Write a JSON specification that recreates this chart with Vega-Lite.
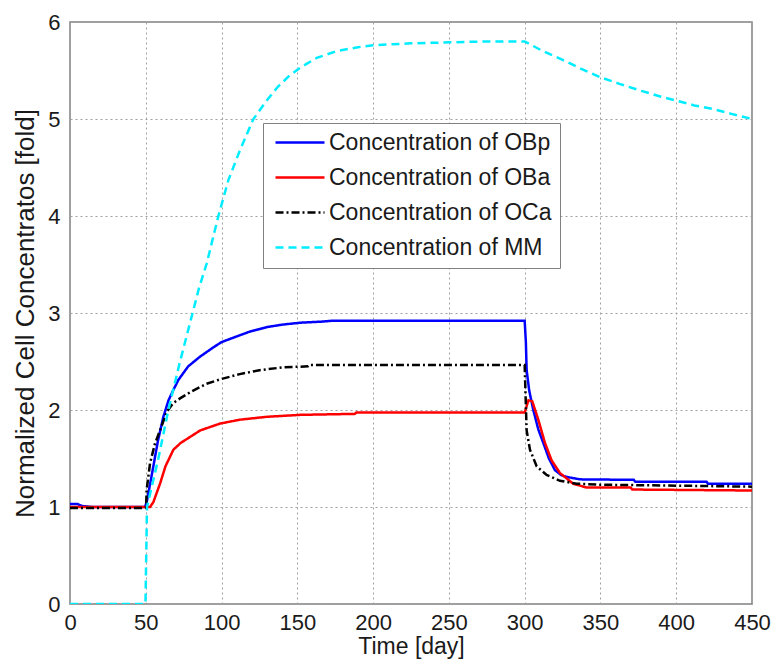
{
  "$schema": "https://vega.github.io/schema/vega-lite/v6.json",
  "width": 682,
  "height": 582,
  "autosize": {"type": "none"},
  "padding": {"left": 70, "top": 22, "right": 22, "bottom": 63},
  "background": "white",
  "config": {
    "font": "Liberation Sans",
    "view": {"stroke": "#808080", "strokeWidth": 1.5},
    "axis": {
      "labelFont": "Liberation Sans",
      "titleFont": "Liberation Sans",
      "labelFontSize": 22,
      "titleFontSize": 23,
      "titleFontWeight": "normal",
      "labelColor": "#1a1a1a",
      "titleColor": "#1a1a1a",
      "domain": false,
      "grid": true,
      "gridColor": "#a0a0a0",
      "gridDash": [2, 3],
      "gridWidth": 1,
      "gridOpacity": 1,
      "tickColor": "#808080",
      "tickSize": 0
    }
  },
  "data": {
    "values": [
      {"t": 0, "v": 1.03, "s": "Concentration of OBp"},
      {"t": 5, "v": 1.03, "s": "Concentration of OBp"},
      {"t": 8, "v": 1.01, "s": "Concentration of OBp"},
      {"t": 15, "v": 1.0, "s": "Concentration of OBp"},
      {"t": 49.5, "v": 1.0, "s": "Concentration of OBp"},
      {"t": 50.6, "v": 1.05, "s": "Concentration of OBp"},
      {"t": 53, "v": 1.25, "s": "Concentration of OBp"},
      {"t": 55, "v": 1.42, "s": "Concentration of OBp"},
      {"t": 58, "v": 1.68, "s": "Concentration of OBp"},
      {"t": 61.6, "v": 1.93, "s": "Concentration of OBp"},
      {"t": 65, "v": 2.1, "s": "Concentration of OBp"},
      {"t": 68, "v": 2.2, "s": "Concentration of OBp"},
      {"t": 71.5, "v": 2.31, "s": "Concentration of OBp"},
      {"t": 78, "v": 2.45, "s": "Concentration of OBp"},
      {"t": 85.8, "v": 2.55, "s": "Concentration of OBp"},
      {"t": 95, "v": 2.65, "s": "Concentration of OBp"},
      {"t": 100, "v": 2.7, "s": "Concentration of OBp"},
      {"t": 112, "v": 2.77, "s": "Concentration of OBp"},
      {"t": 119, "v": 2.81, "s": "Concentration of OBp"},
      {"t": 130, "v": 2.855, "s": "Concentration of OBp"},
      {"t": 140, "v": 2.88, "s": "Concentration of OBp"},
      {"t": 152, "v": 2.9, "s": "Concentration of OBp"},
      {"t": 165, "v": 2.91, "s": "Concentration of OBp"},
      {"t": 173, "v": 2.92, "s": "Concentration of OBp"},
      {"t": 250, "v": 2.92, "s": "Concentration of OBp"},
      {"t": 300, "v": 2.92, "s": "Concentration of OBp"},
      {"t": 300.8, "v": 2.7, "s": "Concentration of OBp"},
      {"t": 301.3, "v": 2.41, "s": "Concentration of OBp"},
      {"t": 303, "v": 2.2, "s": "Concentration of OBp"},
      {"t": 305.7, "v": 2.0, "s": "Concentration of OBp"},
      {"t": 309, "v": 1.8, "s": "Concentration of OBp"},
      {"t": 312.3, "v": 1.66, "s": "Concentration of OBp"},
      {"t": 316, "v": 1.5, "s": "Concentration of OBp"},
      {"t": 320, "v": 1.38, "s": "Concentration of OBp"},
      {"t": 324, "v": 1.33, "s": "Concentration of OBp"},
      {"t": 327.7, "v": 1.31, "s": "Concentration of OBp"},
      {"t": 336.5, "v": 1.285, "s": "Concentration of OBp"},
      {"t": 372, "v": 1.28, "s": "Concentration of OBp"},
      {"t": 373, "v": 1.26, "s": "Concentration of OBp"},
      {"t": 420, "v": 1.26, "s": "Concentration of OBp"},
      {"t": 421, "v": 1.24, "s": "Concentration of OBp"},
      {"t": 450, "v": 1.24, "s": "Concentration of OBp"},

      {"t": 0, "v": 1.0, "s": "Concentration of OBa"},
      {"t": 52.8, "v": 1.0, "s": "Concentration of OBa"},
      {"t": 55, "v": 1.05, "s": "Concentration of OBa"},
      {"t": 59.4, "v": 1.24, "s": "Concentration of OBa"},
      {"t": 63, "v": 1.42, "s": "Concentration of OBa"},
      {"t": 68.2, "v": 1.59, "s": "Concentration of OBa"},
      {"t": 73, "v": 1.66, "s": "Concentration of OBa"},
      {"t": 79, "v": 1.72, "s": "Concentration of OBa"},
      {"t": 86, "v": 1.79, "s": "Concentration of OBa"},
      {"t": 99, "v": 1.86, "s": "Concentration of OBa"},
      {"t": 112, "v": 1.9, "s": "Concentration of OBa"},
      {"t": 130, "v": 1.93, "s": "Concentration of OBa"},
      {"t": 152, "v": 1.95, "s": "Concentration of OBa"},
      {"t": 188, "v": 1.96, "s": "Concentration of OBa"},
      {"t": 189, "v": 1.975, "s": "Concentration of OBa"},
      {"t": 300, "v": 1.975, "s": "Concentration of OBa"},
      {"t": 302.5, "v": 2.1, "s": "Concentration of OBa"},
      {"t": 305, "v": 2.09, "s": "Concentration of OBa"},
      {"t": 309, "v": 1.9, "s": "Concentration of OBa"},
      {"t": 313.4, "v": 1.66, "s": "Concentration of OBa"},
      {"t": 317.8, "v": 1.48, "s": "Concentration of OBa"},
      {"t": 323.3, "v": 1.35, "s": "Concentration of OBa"},
      {"t": 332, "v": 1.24, "s": "Concentration of OBa"},
      {"t": 341, "v": 1.2, "s": "Concentration of OBa"},
      {"t": 370, "v": 1.2, "s": "Concentration of OBa"},
      {"t": 371, "v": 1.18, "s": "Concentration of OBa"},
      {"t": 450, "v": 1.17, "s": "Concentration of OBa"},

      {"t": 0, "v": 0.99, "s": "Concentration of OCa"},
      {"t": 49.5, "v": 0.99, "s": "Concentration of OCa"},
      {"t": 50.2, "v": 1.0, "s": "Concentration of OCa"},
      {"t": 50.6, "v": 1.18, "s": "Concentration of OCa"},
      {"t": 52.8, "v": 1.45, "s": "Concentration of OCa"},
      {"t": 56, "v": 1.65, "s": "Concentration of OCa"},
      {"t": 59.4, "v": 1.79, "s": "Concentration of OCa"},
      {"t": 63.8, "v": 1.98, "s": "Concentration of OCa"},
      {"t": 68, "v": 2.07, "s": "Concentration of OCa"},
      {"t": 72.6, "v": 2.12, "s": "Concentration of OCa"},
      {"t": 80, "v": 2.19, "s": "Concentration of OCa"},
      {"t": 90, "v": 2.27, "s": "Concentration of OCa"},
      {"t": 100, "v": 2.32, "s": "Concentration of OCa"},
      {"t": 112, "v": 2.37, "s": "Concentration of OCa"},
      {"t": 125, "v": 2.41, "s": "Concentration of OCa"},
      {"t": 140.6, "v": 2.44, "s": "Concentration of OCa"},
      {"t": 157, "v": 2.45, "s": "Concentration of OCa"},
      {"t": 158, "v": 2.465, "s": "Concentration of OCa"},
      {"t": 300, "v": 2.465, "s": "Concentration of OCa"},
      {"t": 300.5, "v": 2.2, "s": "Concentration of OCa"},
      {"t": 301.3, "v": 1.79, "s": "Concentration of OCa"},
      {"t": 303.5, "v": 1.59, "s": "Concentration of OCa"},
      {"t": 307.9, "v": 1.42, "s": "Concentration of OCa"},
      {"t": 314.5, "v": 1.33, "s": "Concentration of OCa"},
      {"t": 323.3, "v": 1.27, "s": "Concentration of OCa"},
      {"t": 334.3, "v": 1.24, "s": "Concentration of OCa"},
      {"t": 350, "v": 1.23, "s": "Concentration of OCa"},
      {"t": 400, "v": 1.22, "s": "Concentration of OCa"},
      {"t": 450, "v": 1.21, "s": "Concentration of OCa"},

      {"t": 0, "v": 0, "s": "Concentration of MM"},
      {"t": 49.8, "v": 0, "s": "Concentration of MM"},
      {"t": 50.3, "v": 0.5, "s": "Concentration of MM"},
      {"t": 50.8, "v": 1.0, "s": "Concentration of MM"},
      {"t": 58.3, "v": 1.5, "s": "Concentration of MM"},
      {"t": 64.9, "v": 2.0, "s": "Concentration of MM"},
      {"t": 72.6, "v": 2.5, "s": "Concentration of MM"},
      {"t": 80.9, "v": 3.0, "s": "Concentration of MM"},
      {"t": 85, "v": 3.25, "s": "Concentration of MM"},
      {"t": 90.2, "v": 3.51, "s": "Concentration of MM"},
      {"t": 97.9, "v": 4.0, "s": "Concentration of MM"},
      {"t": 104.5, "v": 4.37, "s": "Concentration of MM"},
      {"t": 112.2, "v": 4.68, "s": "Concentration of MM"},
      {"t": 121, "v": 5.0, "s": "Concentration of MM"},
      {"t": 129.8, "v": 5.19, "s": "Concentration of MM"},
      {"t": 137, "v": 5.33, "s": "Concentration of MM"},
      {"t": 145, "v": 5.45, "s": "Concentration of MM"},
      {"t": 152, "v": 5.53, "s": "Concentration of MM"},
      {"t": 162.8, "v": 5.63, "s": "Concentration of MM"},
      {"t": 176, "v": 5.7, "s": "Concentration of MM"},
      {"t": 190, "v": 5.74, "s": "Concentration of MM"},
      {"t": 200, "v": 5.76, "s": "Concentration of MM"},
      {"t": 225, "v": 5.78, "s": "Concentration of MM"},
      {"t": 250, "v": 5.79, "s": "Concentration of MM"},
      {"t": 275, "v": 5.8, "s": "Concentration of MM"},
      {"t": 300, "v": 5.8, "s": "Concentration of MM"},
      {"t": 312, "v": 5.7, "s": "Concentration of MM"},
      {"t": 325, "v": 5.61, "s": "Concentration of MM"},
      {"t": 337, "v": 5.52, "s": "Concentration of MM"},
      {"t": 350, "v": 5.43, "s": "Concentration of MM"},
      {"t": 363, "v": 5.36, "s": "Concentration of MM"},
      {"t": 377, "v": 5.29, "s": "Concentration of MM"},
      {"t": 390, "v": 5.23, "s": "Concentration of MM"},
      {"t": 400, "v": 5.19, "s": "Concentration of MM"},
      {"t": 412, "v": 5.14, "s": "Concentration of MM"},
      {"t": 425, "v": 5.1, "s": "Concentration of MM"},
      {"t": 437, "v": 5.05, "s": "Concentration of MM"},
      {"t": 450, "v": 5.0, "s": "Concentration of MM"}
    ]
  },
  "mark": {"type": "line", "strokeWidth": 2.5, "clip": true},
  "encoding": {
    "x": {
      "field": "t",
      "type": "quantitative",
      "scale": {"domain": [0, 450], "nice": false, "zero": false},
      "axis": {"values": [0, 50, 100, 150, 200, 250, 300, 350, 400, 450], "title": "Time [day]", "labelPadding": 8, "titlePadding": 2, "labelFlush": false}
    },
    "y": {
      "field": "v",
      "type": "quantitative",
      "scale": {"domain": [0, 6], "nice": false},
      "axis": {"values": [0, 1, 2, 3, 4, 5, 6], "title": "Normalized Cell Concentratos [fold]", "titleFontSize": 26, "labelPadding": 10, "titlePadding": 9}
    },
    "color": {
      "field": "s",
      "type": "nominal",
      "scale": {
        "domain": ["Concentration of OBp", "Concentration of OBa", "Concentration of OCa", "Concentration of MM"],
        "range": ["#0000ff", "#ff0000", "#000000", "#00ecff"]
      },
      "legend": {
        "title": null,
        "orient": "none",
        "legendX": 193,
        "legendY": 101,
        "fillColor": "white",
        "strokeColor": "#808080",
        "padding": 8,
        "labelFont": "Liberation Sans",
        "labelFontSize": 23,
        "labelLimit": 0,
        "labelColor": "#1a1a1a",
        "labelOffset": 35,
        "symbolType": "M-1.4,0L8.4,0",
        "symbolSize": 100,
        "symbolStrokeWidth": 2.5,
        "rowPadding": 11
      }
    },
    "strokeDash": {
      "field": "s",
      "type": "nominal",
      "scale": {
        "domain": ["Concentration of OBp", "Concentration of OBa", "Concentration of OCa", "Concentration of MM"],
        "range": [[1, 0], [1, 0], [8, 3, 2, 3], [8, 5]]
      },
      "legend": null
    }
  }
}
